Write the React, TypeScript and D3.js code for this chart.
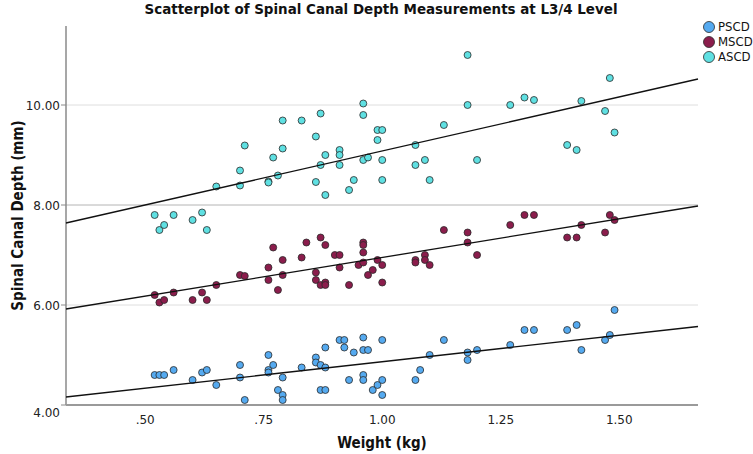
import { scaleLinear } from "d3";
import type { FC } from "react";

// weight (kg) and depth (mm) per series
const pscdPoints: [number, number][] = [
  [0.52, 4.6], [0.53, 4.6], [0.54, 4.6], [0.56, 4.7], [0.6, 4.5], [0.62, 4.65],
  [0.63, 4.7], [0.65, 4.4], [0.7, 4.8], [0.7, 4.55], [0.71, 4.1], [0.76, 4.7],
  [0.76, 4.65], [0.76, 5.0], [0.77, 4.8], [0.78, 4.3], [0.79, 4.2], [0.79, 4.1],
  [0.79, 4.55], [0.83, 4.75], [0.86, 4.95], [0.86, 4.85], [0.87, 4.3], [0.87, 4.8],
  [0.88, 5.15], [0.88, 4.3], [0.88, 4.75], [0.91, 5.3], [0.92, 5.15], [0.92, 5.3],
  [0.93, 4.5], [0.94, 5.05], [0.96, 5.35], [0.96, 5.1], [0.96, 4.6], [0.96, 4.5],
  [0.97, 5.1], [0.98, 4.3], [0.99, 4.4], [1.0, 5.3], [1.0, 4.5], [1.0, 4.2],
  [1.07, 4.5], [1.08, 4.7], [1.1, 5.0], [1.13, 5.3], [1.18, 5.05], [1.18, 4.9],
  [1.2, 5.1], [1.27, 5.2], [1.3, 5.5], [1.32, 5.5], [1.39, 5.5], [1.41, 5.6],
  [1.42, 5.1], [1.47, 5.3], [1.48, 5.4], [1.49, 5.9],
];

const mscdPoints: [number, number][] = [
  [0.52, 6.2], [0.53, 6.05], [0.54, 6.1], [0.56, 6.25], [0.6, 6.1], [0.62, 6.25],
  [0.63, 6.1], [0.65, 6.4], [0.7, 6.6], [0.71, 6.58], [0.76, 6.75], [0.76, 6.5],
  [0.77, 7.15], [0.78, 6.3], [0.79, 6.6], [0.79, 6.9], [0.83, 6.95], [0.84, 7.25],
  [0.86, 6.5], [0.86, 6.65], [0.87, 7.35], [0.87, 6.4], [0.88, 7.2], [0.88, 6.45],
  [0.88, 6.4], [0.9, 7.0], [0.91, 6.75], [0.91, 7.0], [0.93, 6.4], [0.95, 6.8],
  [0.96, 7.25], [0.96, 7.2], [0.96, 7.05], [0.96, 6.85], [0.97, 6.6], [0.98, 6.7],
  [0.99, 6.9], [1.0, 6.8], [1.0, 6.45], [1.07, 6.9], [1.07, 6.85], [1.09, 7.0],
  [1.09, 6.9], [1.1, 6.8], [1.13, 7.5], [1.18, 7.45], [1.18, 7.25], [1.2, 7.0],
  [1.27, 7.6], [1.3, 7.8], [1.32, 7.8], [1.39, 7.35], [1.41, 7.35], [1.42, 7.6],
  [1.47, 7.45], [1.48, 7.8], [1.49, 7.7],
];

const ascdPoints: [number, number][] = [
  [0.52, 7.8], [0.53, 7.5], [0.54, 7.6], [0.56, 7.8], [0.6, 7.7], [0.62, 7.85],
  [0.63, 7.5], [0.65, 8.37], [0.7, 8.39], [0.7, 8.69], [0.71, 9.19], [0.76, 8.47],
  [0.76, 8.45], [0.77, 8.95], [0.78, 8.59], [0.79, 9.13], [0.79, 9.69], [0.83, 9.69],
  [0.86, 9.37], [0.86, 8.46], [0.87, 9.83], [0.87, 8.8], [0.88, 9.0], [0.88, 8.2],
  [0.91, 9.1], [0.91, 9.0], [0.91, 8.8], [0.93, 8.3], [0.94, 8.5], [0.96, 10.03],
  [0.96, 9.8], [0.96, 8.9], [0.97, 8.95], [0.99, 9.3], [0.99, 9.5], [1.0, 9.5],
  [1.0, 8.9], [1.0, 8.5], [1.07, 9.2], [1.07, 8.8], [1.09, 8.9], [1.1, 8.5],
  [1.13, 9.6], [1.18, 11.0], [1.18, 10.0], [1.2, 8.9], [1.27, 10.0], [1.3, 10.15],
  [1.32, 10.1], [1.39, 9.2], [1.41, 9.1], [1.42, 10.08], [1.47, 9.88], [1.48, 10.54],
  [1.49, 9.45],
];

// fit line values at the left and right edge of the x range
const fitEnds = { PSCD: [4.16, 5.57], MSCD: [5.92, 7.98], ASCD: [7.64, 10.52] };

const xTicks = [0.5, 0.75, 1.0, 1.25, 1.5];
const xTickLabels = [".50", ".75", "1.00", "1.25", "1.50"];
const yTicks = [4, 6, 8, 10];
const yTickLabels = ["4.00", "6.00", "8.00", "10.00"];

const series = [
  { name: "PSCD", color: "#55aaf0", points: pscdPoints },
  { name: "MSCD", color: "#8b1d4c", points: mscdPoints },
  { name: "ASCD", color: "#5fe0e2", points: ascdPoints },
] as const;

const font = "'DejaVu Sans Condensed', 'Liberation Sans Narrow', 'DejaVu Sans', sans-serif";

const Chart: FC = () => {
  const left = 66;
  const right = 698;
  const top = 26;
  const bottom = 405;

  const x = scaleLinear().domain([0.333, 1.666]).range([left, right]);
  const y = scaleLinear().domain([4, 11.58]).range([bottom, top]);

  return (
    <svg width={753} height={454} style={{ display: "block", background: "#fff" }}>
      <text
        x={381}
        y={14}
        textAnchor="middle"
        fontFamily={font}
        fontWeight="bold"
        fontSize={14}
        textLength={473}
        lengthAdjust="spacingAndGlyphs"
        fill="#111"
      >
        Scatterplot of Spinal Canal Depth Measurements at L3/4 Level
      </text>

      {/* grid */}
      {yTicks.slice(1).map((t) => (
        <line
          key={t}
          x1={left}
          x2={right}
          y1={y(t)}
          y2={y(t)}
          stroke={t === 8 ? "#b4b4b4" : "#dedede"}
          strokeWidth={1}
        />
      ))}

      {/* axes */}
      <line x1={left} x2={left} y1={top} y2={bottom} stroke="#8a8a8a" strokeWidth={1.5} />
      <line x1={left} x2={right} y1={bottom} y2={bottom} stroke="#9a9a9a" strokeWidth={2} />
      {yTicks.map((t, i) => (
        <g key={t}>
          <line x1={left - 5} x2={left} y1={y(t)} y2={y(t)} stroke="#8a8a8a" />
          <text
            x={left - 6}
            y={y(t) + (t === 4 ? 8 : 1)}
            textAnchor="end"
            dominantBaseline="middle"
            fontFamily="'DejaVu Sans', sans-serif"
            fontSize={12}
            fill="#222"
          >
            {yTickLabels[i]}
          </text>
        </g>
      ))}
      {xTicks.map((t, i) => (
        <text
          key={t}
          x={x(t)}
          y={424}
          textAnchor="middle"
          fontFamily="'DejaVu Sans', sans-serif"
          fontSize={12}
          fill="#222"
        >
          {xTickLabels[i]}
        </text>
      ))}

      <text
        x={382}
        y={448}
        textAnchor="middle"
        fontFamily={font}
        fontWeight="bold"
        fontSize={15}
        fill="#111"
      >
        Weight (kg)
      </text>
      <text
        transform={`translate(23,${(top + bottom) / 2}) rotate(-90)`}
        textAnchor="middle"
        fontFamily={font}
        fontWeight="bold"
        fontSize={15}
        fill="#111"
      >
        Spinal Canal Depth (mm)
      </text>

      {/* points */}
      {series.map((s) =>
        s.points.map(([wx, wy], i) => (
          <circle
            key={`${s.name}-${i}`}
            cx={x(wx)}
            cy={y(wy)}
            r={3.5}
            fill={s.color}
            stroke="#2a2a2a"
            strokeWidth={0.8}
          />
        )),
      )}

      {/* fit lines */}
      {series.map((s) => {
        const [a, b] = fitEnds[s.name];
        const [d0, d1] = x.domain();
        return (
          <line
            key={s.name}
            x1={x(d0)}
            x2={x(d1)}
            y1={y(a)}
            y2={y(b)}
            stroke="#111"
            strokeWidth={1.3}
          />
        );
      })}

      {/* legend */}
      {series.map((s, i) => (
        <g key={s.name} transform={`translate(709,${27 + i * 15})`}>
          <circle r={5.5} fill={s.color} stroke="#2a2a2a" strokeWidth={0.8} />
          <text
            x={9}
            y={0.5}
            dominantBaseline="middle"
            fontFamily={font}
            fontSize={13}
            fill="#111"
          >
            {s.name}
          </text>
        </g>
      ))}
    </svg>
  );
};

export default function App() {
  return (
    <div style={{ position: "absolute", left: 0, top: 0 }}>
      <Chart />
    </div>
  );
}
